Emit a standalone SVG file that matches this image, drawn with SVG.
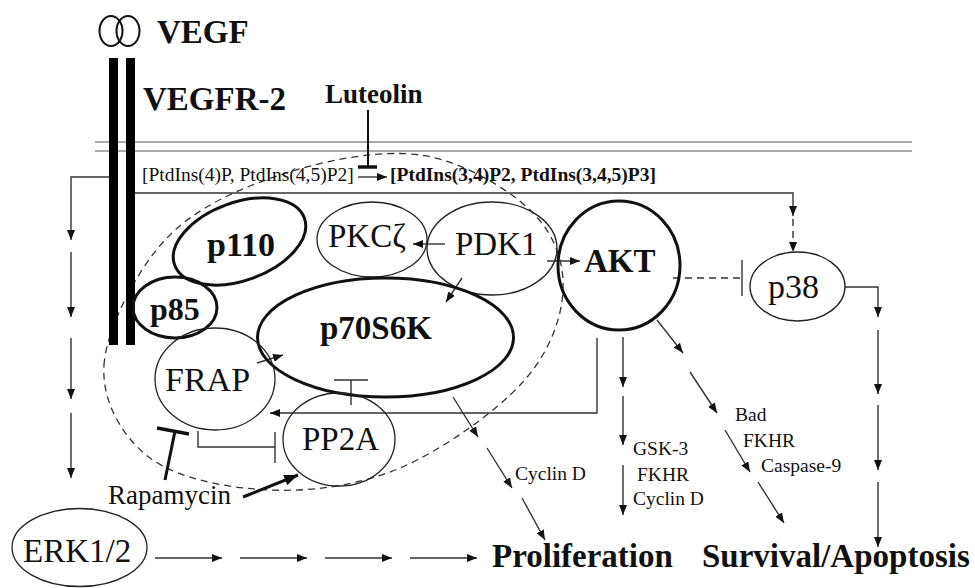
<svg xmlns="http://www.w3.org/2000/svg" width="975" height="588" viewBox="0 0 975 588">
<style>
text{font-family:"Liberation Serif","Times New Roman",serif;fill:#111}
.b{font-weight:bold}
.big{font-size:33px}
.sm{font-size:19.5px}
.thin{fill:none;stroke:#222;stroke-width:1.3}
.thick{fill:none;stroke:#111;stroke-width:3}
.ln{fill:none;stroke:#333;stroke-width:1.4}
.arr{marker-end:url(#ah)}
.dash{stroke-dasharray:7 5}
</style>
<defs>
<marker id="ah" viewBox="0 0 10 8" refX="10" refY="4" markerWidth="10" markerHeight="8" markerUnits="userSpaceOnUse" orient="auto"><path d="M0,0 L10,4 L0,8 z" fill="#111"/></marker>
<marker id="ahb" viewBox="0 0 10 8" refX="10" refY="4" markerWidth="14" markerHeight="11" markerUnits="userSpaceOnUse" orient="auto"><path d="M0,0 L10,4 L0,8 z" fill="#111"/></marker>
</defs>
<rect width="975" height="588" fill="#fff"/>

<g id="membrane">
<path d="M95,142 H912 M95,151 H912" fill="none" stroke="#555" stroke-width="1.2"/>
</g>

<g id="complex-boundary">
<path class="dash" fill="none" stroke="#333" stroke-width="1.3" d="M104,365 C106.5,328.7 135.7,271.7 165,240 C194.3,208.3 237.5,189.2 280,175 C322.5,160.8 378.3,149.2 420,155 C461.7,160.8 506.2,187.5 530,210 C553.8,232.5 564.3,261.2 563,290 C561.7,318.8 549.2,353.3 522,383 C494.8,412.7 442,450.2 400,468 C358,485.8 311.7,491.7 270,490 C228.3,488.3 177.7,478.8 150,458 C122.3,437.2 101.5,401.3 104,365 Z"/>
</g>

<g id="connectors">
<path class="ln arr" d="M109,177 H71 V240"/>
<path class="ln arr" d="M71,252 V317"/>
<path class="ln arr" d="M71,338 V399"/>
<path class="ln arr" d="M71,413 V478"/>
<path class="ln arr" d="M155,558 H222"/>
<path class="ln arr" d="M240,558 H307"/>
<path class="ln arr" d="M325,558 H392"/>
<path class="ln arr" d="M410,558 H477"/>
<path class="ln arr" d="M845,287 H878 V317"/>
<path class="ln arr" d="M878,330 V394"/>
<path class="ln arr" d="M878,405 V470"/>
<path class="ln arr" d="M878,482 V547"/>
<path class="ln arr" d="M623,337 V387"/>
<path class="ln arr" d="M623,396 V445"/>
<path class="ln arr" d="M623,465 V515"/>
<path class="ln arr" d="M657,320 L683,353"/>
<path class="ln arr" d="M690,372 L717,413"/>
<path class="ln arr" d="M725,430 L750,472"/>
<path class="ln arr" d="M758,482 L784,523"/>
<path class="ln arr" d="M453,397 L478,437"/>
<path class="ln arr" d="M487,448 L512,488"/>
<path class="ln arr" d="M522,498 L545,540"/>
<path class="ln arr" d="M597,338 V413 H270"/>
<path class="ln" d="M198,431 V447 H275 M275,432 V463"/>
<path class="ln" d="M351,405 V380 M334,380 H368"/>
<path class="ln arr" d="M445,244 H413"/>
<path class="ln arr" d="M462,278 L446,302"/>
<path class="ln arr" d="M547,261 H580"/>
<path class="ln arr" d="M257,363 L283,355"/>
<path fill="none" stroke="#111" stroke-width="2" d="M368,110 V167"/>
<path fill="none" stroke="#111" stroke-width="3.5" d="M358,167 H377"/>
<path class="ln arr" d="M358,177 H387"/>
<path class="ln arr" d="M135,193 H793 V216"/>
<path class="ln arr dash" d="M793,219 V252"/>
<path class="ln dash" d="M673,278 H742"/>
<path class="ln" d="M742,260 V296"/>
<path fill="none" stroke="#111" stroke-width="3" d="M165,480 L175,431"/>
<path fill="none" stroke="#111" stroke-width="3.5" d="M157,428 L189,434"/>
<path fill="none" stroke="#111" stroke-width="3" marker-end="url(#ahb)" d="M243,497 L298,475"/>
</g>

<g id="vegf">
<ellipse cx="111" cy="31" rx="11.5" ry="15" fill="none" stroke="#111" stroke-width="2"/>
<ellipse cx="128" cy="31" rx="11.5" ry="15" fill="none" stroke="#111" stroke-width="2"/>
<text class="b big" x="157" y="43">VEGF</text>
</g>

<g id="vegfr2">
<rect x="109" y="58" width="9" height="287" fill="#000"/>
<rect x="126" y="58" width="9" height="287" fill="#000"/>
<text class="b big" x="143" y="110">VEGFR-2</text>
</g>

<g id="luteolin"><text class="b" style="font-size:27px" x="325" y="103">Luteolin</text></g>

<g id="ptdins">
<text class="sm" x="142" y="181">[PtdIns(4)P, PtdIns(4,5)P2]</text>
<text class="sm b" x="390" y="181">[PtdIns(3,4)P2, PtdIns(3,4,5)P3]</text>
</g>

<g id="p110">
<ellipse cx="239.5" cy="241.5" rx="69" ry="39" transform="rotate(-20 239.5 241.5)" class="thick"/>
<text class="b" style="font-size:34px" x="207" y="256">p110</text>
</g>
<g id="p85">
<ellipse cx="175" cy="307.5" rx="42" ry="30.5" class="thick"/>
<text class="b" style="font-size:32px" x="150" y="320">p85</text>
</g>
<g id="pkcz">
<ellipse cx="372" cy="239.5" rx="55" ry="37.5" class="thin"/>
<text class="big" x="328" y="247">PKCζ</text>
</g>
<g id="pdk1">
<ellipse cx="492" cy="248.5" rx="65" ry="46.5" class="thin"/>
<text class="big" x="455" y="255">PDK1</text>
</g>
<g id="akt">
<ellipse cx="619" cy="265.5" rx="61" ry="64.5" class="thick"/>
<text class="b big" x="584" y="272">AKT</text>
</g>
<g id="p38">
<ellipse cx="797.5" cy="286.5" rx="47.5" ry="34.5" class="thin"/>
<text style="font-size:34px" x="768" y="298">p38</text>
</g>
<g id="p70s6k">
<ellipse cx="385.5" cy="337.5" rx="128" ry="59.5" class="thick"/>
<text class="b big" x="320" y="339">p70S6K</text>
</g>
<g id="frap">
<ellipse cx="215" cy="379" rx="60" ry="51" class="thin"/>
<text style="font-size:34px" x="165" y="391">FRAP</text>
</g>
<g id="pp2a">
<ellipse cx="339" cy="439.5" rx="56" ry="46.5" class="thin"/>
<text class="big" x="302" y="450">PP2A</text>
</g>
<g id="rapamycin"><text style="font-size:27px" x="108" y="504">Rapamycin</text></g>
<g id="erk">
<ellipse cx="79.5" cy="547.5" rx="67.5" ry="39" class="thin"/>
<text class="big" x="23" y="562">ERK1/2</text>
</g>
<g id="labels">
<text class="sm" x="515" y="480">Cyclin D</text>
<text class="sm" x="633" y="455">GSK-3</text>
<text class="sm" x="637" y="481">FKHR</text>
<text class="sm" x="633" y="505">Cyclin D</text>
<text class="sm" x="735" y="421">Bad</text>
<text class="sm" x="743" y="447">FKHR</text>
<text class="sm" x="761" y="472">Caspase-9</text>
</g>
<g id="proliferation"><text class="b big" x="492" y="567">Proliferation</text></g>
<g id="survival"><text class="b big" x="702" y="567">Survival/Apoptosis</text></g>
</svg>
